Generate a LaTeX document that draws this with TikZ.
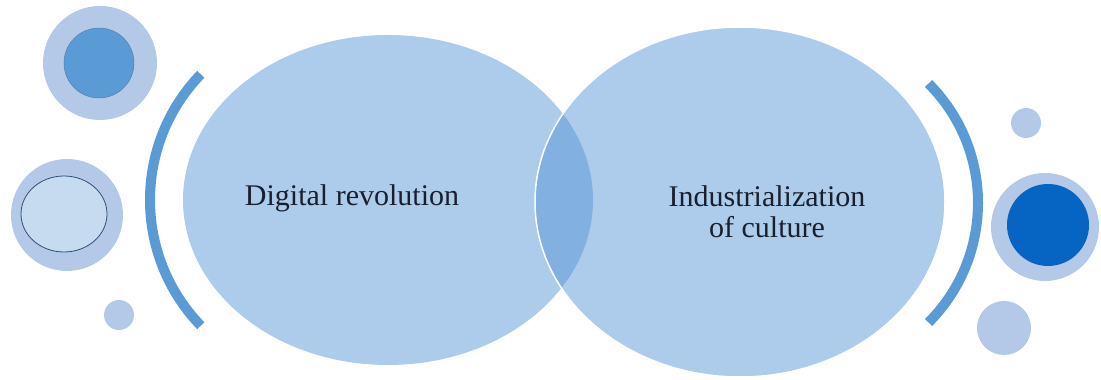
\documentclass[tikz,border=0pt]{standalone}
\usepackage{fontspec}
\setmainfont{Liberation Serif}
\newfontfamily\labelfont{Liberation Serif}
\usepackage{xcolor}
\usepackage{tikz}
\usetikzlibrary{positioning}

\definecolor{paleblue}{HTML}{ADCBEA}
\definecolor{lensblue}{HTML}{82B0E0}
\definecolor{accentblue}{HTML}{5B9BD5}
\definecolor{ringblue}{HTML}{B4C9E8}
\definecolor{deepblue}{HTML}{0664C2}
\definecolor{lineblue}{HTML}{2F5275}
\definecolor{softblue}{HTML}{C6DAF0}
\definecolor{textnavy}{HTML}{1A1F2E}

\begin{document}
\begin{tikzpicture}[x=1pt, y=1pt,
    bracket/.style={draw=accentblue, line width=10pt},
    label/.style={font=\labelfont\fontsize{30}{31}\selectfont, text=textnavy, align=center, inner sep=0pt}]
    \useasboundingbox (0,0) rectangle (1101,380);

    % Draw the two big ellipses
    \fill [paleblue] (388,180) ellipse (205pt and 165pt);
    \fill [paleblue] (740,178) ellipse (205pt and 175pt);
    \begin{scope}
        \clip (388,180) ellipse (205pt and 165pt);
        \fill [lensblue] (740,178) ellipse (205pt and 175pt);
    \end{scope}
    \draw [white, line width=1.5pt] (740,178) ellipse (205pt and 175pt);

    % Draw the brackets
    \draw [bracket] (331,180) ++(136:181pt) arc (136:224:181pt);
    \draw [bracket] (809,177) ++(-45:169pt) arc (-45:45:169pt);

    % Draw circles on the left
    \fill [ringblue] (100,317) circle (57pt);
    \draw [accentblue!80!black, fill=accentblue] (99,317) circle (35pt);
    \fill [ringblue] (67,165) circle (56pt);
    \draw [lineblue, thick, fill=softblue] (64,166) ellipse (43pt and 38pt);
    \fill [ringblue] (119,65) circle (15pt);

    % Draw circles on the right
    \fill [ringblue] (1026,257) circle (15pt);
    \fill [ringblue] (1045,153) circle (54pt);
    \fill [deepblue] (1048,155) circle (41pt);
    \fill [ringblue] (1004,52) circle (27pt);

    % Labels
    \node [label] (digital) at (352,181.5) {Digital revolution};
    \node [label] (industry) at (767,168) {Industrialization\\of culture};
\end{tikzpicture}
\end{document}
